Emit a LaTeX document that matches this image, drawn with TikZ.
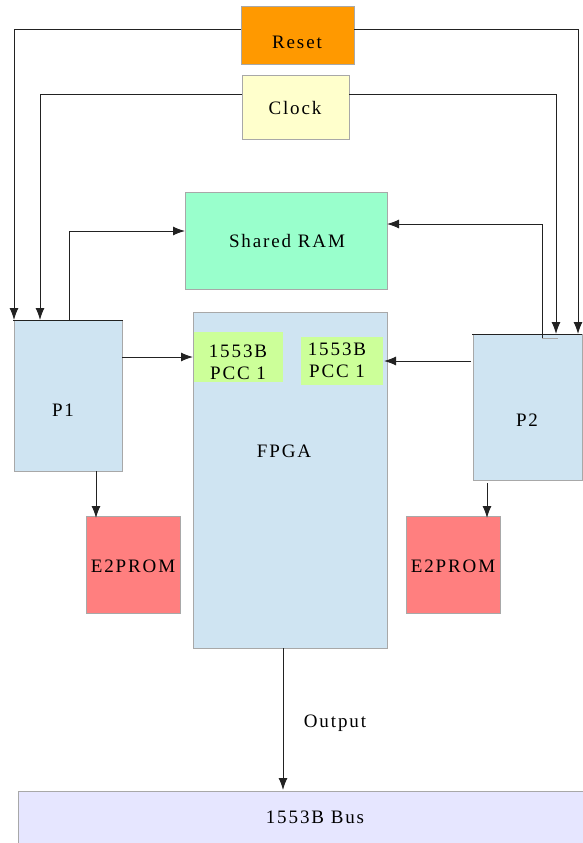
\documentclass[tikz,border=0pt]{standalone}
\usepackage{fontspec}
\setmainfont{Liberation Serif}[LetterSpace=10]
\usetikzlibrary{arrows.meta,calc}
\definecolor{cReset}{HTML}{FF9900}
\definecolor{cClock}{HTML}{FFFFCC}
\definecolor{cRam}{HTML}{99FFCC}
\definecolor{cProc}{HTML}{CFE4F2}
\definecolor{cPcc}{HTML}{CCFF99}
\definecolor{cProm}{HTML}{FF7F7F}
\definecolor{cBus}{HTML}{E6E6FF}
\definecolor{cEdge}{HTML}{A8A8A8}
\definecolor{cLine}{HTML}{222222}
\begin{document}
\begin{tikzpicture}[x=1pt,y=-1pt,
  every node/.style={font=\fontsize{19}{22}\selectfont, text=black},
  blk/.style={draw=cEdge, line width=1pt, inner sep=0pt, outer sep=0pt, anchor=north west},
  lbl/.style={inner sep=0pt},
  conn/.style={draw=cLine, line width=1pt, -{Latex[length=12pt,width=9pt]}},
  wire/.style={draw=cLine, line width=1pt}]
\useasboundingbox (0,0) rectangle (582,843);
\fill[white] (0,0) rectangle (582,843);

% blocks
\node[blk, fill=cReset, minimum width=113pt, minimum height=58pt] (reset) at (241,7) {};
\node[lbl] (resettxt) at (297,42) {Reset};
\node[blk, fill=cClock, minimum width=107pt, minimum height=64pt] (clock) at (242,75) {};
\node[lbl] (clocktxt) at (295,108) {Clock};
\node[blk, fill=cRam, minimum width=202pt, minimum height=97pt] (ram) at (185,192) {};
\node[lbl] (ramtxt) at (287,241) {Shared RAM};
\node[blk, fill=cProc, minimum width=108pt, minimum height=151pt] (p1) at (14,320) {};
\node[lbl] (p1txt) at (63,410) {P1};
\node[blk, fill=cProc, minimum width=194pt, minimum height=336pt] (fpga) at (193,312) {};
\node[lbl] (fpgatxt) at (284,451) {FPGA};
\node[blk, draw=none, fill=cPcc, minimum width=89pt, minimum height=50pt] (pcc1) at (194,332) {};
\node[lbl, align=center] (pcc1txt) at (238,362) {1553B\\PCC 1};
\node[blk, draw=none, fill=cPcc, minimum width=82pt, minimum height=48pt] (pcc2) at (301,337) {};
\node[lbl, align=center] (pcc2txt) at (337,360) {1553B\\PCC 1};
\node[blk, fill=cProc, minimum width=109pt, minimum height=146pt] (p2) at (473,334) {};
\node[lbl] (p2txt) at (527,420) {P2};
\node[blk, fill=cProm, minimum width=94pt, minimum height=97pt] (e2l) at (86,516) {};
\node[lbl] (e2ltxt) at (133,566) {E2PROM};
\node[blk, fill=cProm, minimum width=94pt, minimum height=97pt] (e2r) at (406,516) {};
\node[lbl] (e2rtxt) at (453,566) {E2PROM};
\node[blk, fill=cBus, minimum width=570pt, minimum height=60pt] (bus) at (18,791) {};
\node[lbl] (bustxt) at (315,817) {1553B Bus};
\node[lbl] (outtxt) at (335,723) {Output};

% top edges of processors
\draw[wire] (13,320) -- (123,320);
\draw[wire] (472,334) -- (582,334);

% free ends
\coordinate (p1reset) at (14,320);
\coordinate (p1clock) at (40,320);
\coordinate (p1ram) at (69,320);
\coordinate (p2reset) at (578,334);
\coordinate (p2clock) at (556,334);
\coordinate (p2ram) at (542,338);

% reset and clock
\draw[conn] ($(reset.west)+(0,-6)$) -| (p1reset);
\draw[conn] ($(reset.east)+(0,-6)$) -| (p2reset);
\draw[conn] ($(clock.west)+(0,-13)$) -| (p1clock);
\draw[conn] ($(clock.east)+(0,-13)$) -| (p2clock);

% shared RAM
\draw[conn] (p1ram) |- ($(ram.west)+(0,-9.5)$);
\draw[conn] (p2ram) |- ($(ram.east)+(0,-16.5)$);
\draw[draw=cEdge, line width=0.8pt] (p2ram) -- (558,338);

% to PCCs
\draw[conn] ($(p1.east)+(0,-38.5)$) -- ($(fpga.west)+(0,-123)$);
\draw[conn] ($(p2.west)+(-2,-46)$) -- ($(pcc2.east)+(1,0)$);

% to E2PROMs
\draw[conn] ($(p1.south west)+(82,0)$) -- ($(e2l.north west)+(10,2)$);
\draw[conn] ($(p2.south west)+(14,3)$) -- ($(e2r.north west)+(81,2)$);

% output
\draw[conn] ($(fpga.south west)+(90,0)$) -- ($(bus.north west)+(265,-1)$);
\end{tikzpicture}
\end{document}
